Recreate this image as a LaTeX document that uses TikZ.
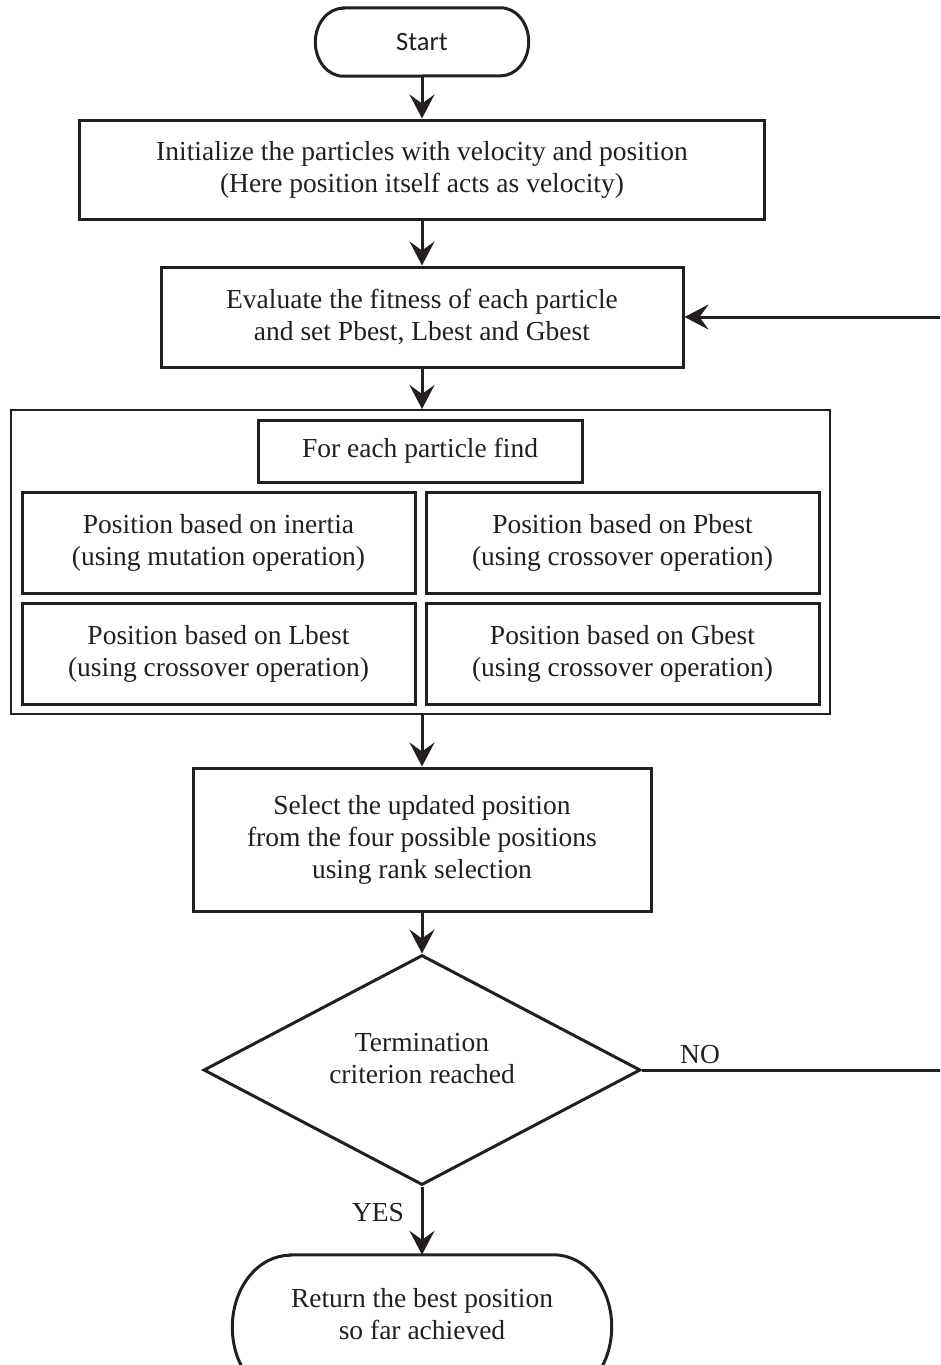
\documentclass[tikz,border=0pt]{standalone}
\usepackage{fontspec}
\setmainfont{Liberation Serif}
\newfontfamily\carlito{Carlito}
\usetikzlibrary{arrows.meta,shapes.geometric}
\definecolor{ink}{HTML}{231F20}
\tikzset{
  txt/.style={font=\fontsize{27.5}{32}\selectfont, text=ink, align=center, inner sep=0pt},
  box/.style={txt, draw=ink, line width=3pt, rectangle},
  outerbox/.style={draw=ink, line width=2pt, rectangle, inner sep=0pt},
  termnode/.style={rectangle, inner sep=0pt, align=center, text=ink},
  termline/.style={draw=ink, line width=3pt},
  arr/.style={draw=ink, line width=3pt, -{Stealth[length=24pt,width=25pt,inset=9pt]}},
  decision/.style={diamond, aspect=1.9, draw=ink, line width=3pt, inner sep=0pt},
}
\newcommand\termoutline[3]{%
  \draw[termline] ([xshift=#2pt]#1.north west) -- ([xshift=-#2pt]#1.north east)
    arc[start angle=90,end angle=-90,x radius=#2pt,y radius=#3pt]
    -- ([xshift=#2pt]#1.south west)
    arc[start angle=270,end angle=90,x radius=#2pt,y radius=#3pt] -- cycle;}
\begin{document}
\begin{tikzpicture}[x=1pt,y=-1pt]
\useasboundingbox (0,0) rectangle (940,1365);
\clip (0,0) rectangle (940,1365);

% Start terminal
\node[termnode, minimum width=213, minimum height=68, font=\carlito\fontsize{26.5}{30}\selectfont] (start) at (422,42) {Start};
\termoutline{start}{28}{34}

\node[box, minimum width=685, minimum height=99] (box1) at (422,169.5)
  {Initialize the particles with velocity and position\\(Here position itself acts as velocity)};
\node[box, minimum width=522, minimum height=100] (box2) at (422,317)
  {Evaluate the fitness of each particle\\and set Pbest, Lbest and Gbest};

% group
\node[outerbox, minimum width=819, minimum height=304] (outer) at (420.5,562) {};
\node[box, minimum width=324, minimum height=62] (foreach) at (420,451) {For each particle find};
\node[box, minimum width=393, minimum height=101] (inertia) at (218.5,542.5)
  {Position based on inertia\\(using mutation operation)};
\node[box, minimum width=393, minimum height=101] (pbest) at (622.5,542.5)
  {Position based on Pbest\\(using crossover operation)};
\node[box, minimum width=393, minimum height=101] (lbest) at (218.5,653.5)
  {Position based on Lbest\\(using crossover operation)};
\node[box, minimum width=393, minimum height=101] (gbest) at (622.5,653.5)
  {Position based on Gbest\\(using crossover operation)};

\node[box, minimum width=458, minimum height=143] (box3) at (422,839.5)
  {Select the updated position\\from the four possible positions\\using rank selection};

\node[decision, minimum width=437, minimum height=230] (dia) at (422,1070) {};
\node[txt] (diatxt) at (422,1059) {Termination\\criterion reached};

% Stop terminal
\node[termnode, minimum width=379, minimum height=144] (stop) at (422,1327) {};
\termoutline{stop}{58}{72}
\node[txt] (stoptxt) at (422,1314) {Return the best position\\so far achieved};

% connectors
\draw[arr] (start.south) -- (box1.north);
\draw[arr] (box1.south) -- (box2.north);
\draw[arr] (box2.south) -- (box2.south |- outer.north);
\draw[arr] (box2.south |- outer.south) -- (box3.north);
\draw[arr] (box3.south) -- (dia.north);
\draw[arr] (dia.south) -- (stop.north);
\coordinate (loopc) at (948,1070);
\draw[arr] (dia.east) -- (loopc) |- (box2.east);

\node[txt, anchor=base] (nolbl) at (700,1063) {NO};
\node[txt, anchor=base] (yeslbl) at (378,1221) {YES};
\end{tikzpicture}
\end{document}
